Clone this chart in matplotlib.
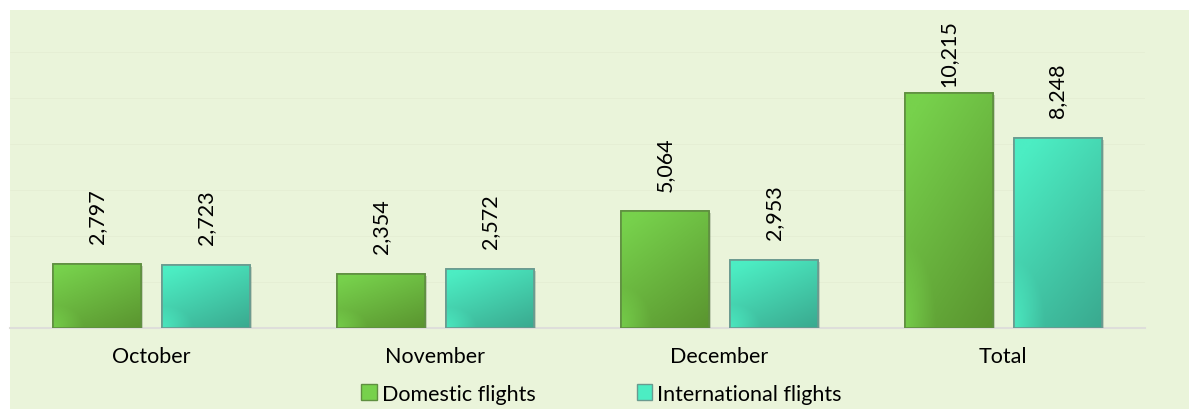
import numpy as np
import matplotlib.pyplot as plt
from matplotlib.patches import Patch, Rectangle
from matplotlib.colors import to_rgb
import matplotlib.patheffects as pe

plt.rcParams["font.family"] = ["Lato", "DejaVu Sans"]

months = ["October", "November", "December", "Total"]
domestic = [2797, 2354, 5064, 10215]
international = [2723, 2572, 2953, 8248]
series_names = ["Domestic flights", "International flights"]

# light / dark ends of each bar gradient, and edge colour
styles = [
    ("#77d14c", "#5a942f", "#5f8f40"),
    ("#4cedc3", "#3aa98f", "#6a9a8f"),
]

fig = plt.figure(figsize=(11.89, 4.10), dpi=100)
fig.patches.append(Rectangle((10 / 1189, 0), 1, (410 - 11) / 410,
                             transform=fig.transFigure, facecolor="#eaf4da",
                             edgecolor="none", zorder=-10))

ax = fig.add_axes([9.6 / 1189, (410 - 329) / 410,
                   (1145 - 9.6) / 1189, (329 - 52.7) / 410])
ax.set_facecolor("none")

x = np.arange(len(months))
width = 0.31
offset = 0.192
fs = 15.5

ax.set_xlim(-0.5, len(months) - 0.5)
ax.set_ylim(0, 12000)
ax.set_yticks(np.arange(0, 12001, 2000))
ax.grid(axis="y", color="#e5eed4", linewidth=0.6, zorder=0)
ax.set_axisbelow(True)

labels = []
for i, (vals, (light, dark, edge)) in enumerate(zip([domestic, international], styles)):
    bars = ax.bar(x + (offset if i else -offset), vals, width=width,
                  color=light, edgecolor=edge, linewidth=1.2, zorder=2)
    lc = np.array(to_rgb(light))
    dc = np.array(to_rgb(dark))
    yy, xx = np.mgrid[0:1:100j, 0:1:60j]   # yy = 0 at top of bar
    t = np.clip(0.7 * yy + 0.4 * xx - 0.1, 0, 1)
    # lighter spot at bottom-left corner
    t = t - 0.5 * np.clip(1 - np.hypot(xx, 1 - yy) / 0.35, 0, 1)
    t = np.clip(t, 0, 1)[..., None]
    img = lc * (1 - t) + dc * t
    for b, v in zip(bars, vals):
        b.set_path_effects([pe.SimplePatchShadow(offset=(1.5, -1.5), alpha=0.2),
                            pe.Normal()])
        x0, y0 = b.get_x(), b.get_y()
        im = ax.imshow(img, extent=(x0, x0 + b.get_width(), y0, y0 + b.get_height()),
                       origin="upper", aspect="auto", zorder=2.5,
                       interpolation="bilinear")
        im.set_clip_path(b)
        ax.add_patch(Rectangle((x0, y0), b.get_width(), b.get_height(),
                               facecolor="none", edgecolor=edge, linewidth=1.2,
                               zorder=3))
        labels.append(ax.annotate(f"{v:,}", (b.get_x() + b.get_width() / 2, v),
                                  xytext=(0, 15), textcoords="offset points",
                                  rotation=90, ha="center", va="bottom", fontsize=fs,
                                  color="#000000", annotation_clip=False))

ax.set_xticks(x)
ax.set_xticklabels(months, fontsize=fs)
ax.tick_params(axis="x", length=0, pad=13)
ax.tick_params(axis="y", left=False, labelleft=False)
for s in ["top", "left", "right"]:
    ax.spines[s].set_visible(False)
ax.spines["bottom"].set_color("#dededa")
ax.spines["bottom"].set_linewidth(1.5)
ax.spines["bottom"].set_zorder(1)

handles = [Patch(facecolor=styles[0][0], edgecolor=styles[0][2]),
           Patch(facecolor=styles[1][0], edgecolor=styles[1][2])]
fig.legend(handles, series_names, loc="lower center", ncol=2,
           bbox_to_anchor=(0.506, -0.034), frameon=False, fontsize=fs,
           handlelength=0.7, handleheight=0.7, handletextpad=0.25,
           columnspacing=4.7)

# keep value labels inside the chart area (push down like the original)
fig.canvas.draw()
r = fig.canvas.get_renderer()
top_limit = fig.bbox.height - 20
for lab in labels:
    ext = lab.get_window_extent(r)
    if ext.y1 > top_limit:
        dy = (ext.y1 - top_limit) * 72 / fig.dpi
        lab.set_position((0, 15 - dy))

fig.savefig("out.png", dpi=100)
